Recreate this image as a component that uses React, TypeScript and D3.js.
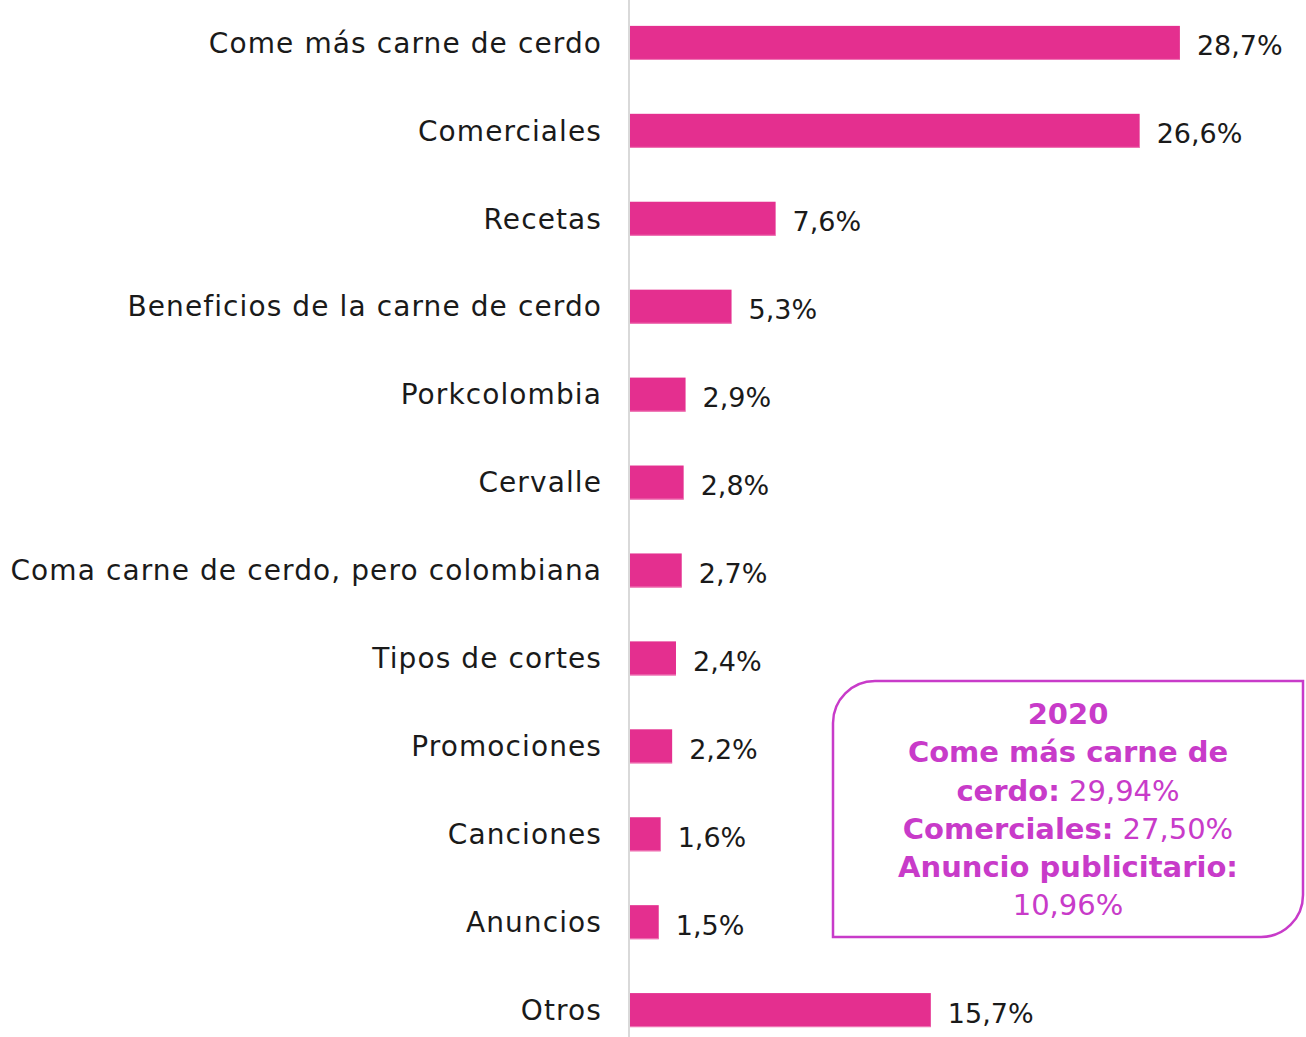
import React from "react";
import * as d3 from "d3";

const categories = [
  "Come más carne de cerdo",
  "Comerciales",
  "Recetas",
  "Beneficios de la carne de cerdo",
  "Porkcolombia",
  "Cervalle",
  "Coma carne de cerdo, pero colombiana",
  "Tipos de cortes",
  "Promociones",
  "Canciones",
  "Anuncios",
  "Otros",
];
const values = [28.7, 26.6, 7.6, 5.3, 2.9, 2.8, 2.7, 2.4, 2.2, 1.6, 1.5, 15.7];
const valueLabels = ["28,7%", "26,6%", "7,6%", "5,3%", "2,9%", "2,8%", "2,7%", "2,4%", "2,2%", "1,6%", "1,5%", "15,7%"];

const noteLines: { bold: string; normal: string }[] = [
  { bold: "2020", normal: "" },
  { bold: "Come más carne de", normal: "" },
  { bold: "cerdo:", normal: " 29,94%" },
  { bold: "Comerciales:", normal: " 27,50%" },
  { bold: "Anuncio publicitario:", normal: "" },
  { bold: "", normal: "10,96%" },
];

const W = 1306;
const H = 1037;
const FONT = "'DejaVu Sans', sans-serif";

export default function App() {
  const x0 = 630;
  const x = d3.scaleLinear().domain([0, 30]).range([x0, x0 + 30 * 19.16]);
  const y = d3
    .scaleBand<string>()
    .domain(categories)
    .range([-0.5, 1053.5])
    .paddingInner(0.613)
    .paddingOuter(0.3);

  const bw = y.bandwidth();
  const pink = "#E42F8F";
  const purple = "#C83BC9";

  // annotation box
  const bx = 833, by = 681, bx2 = 1303, by2 = 937, r = 42;
  const boxPath = `M${bx},${by + r} A${r},${r} 0 0 1 ${bx + r},${by} L${bx2},${by} L${bx2},${by2 - r} A${r},${r} 0 0 1 ${bx2 - r},${by2} L${bx},${by2} Z`;

  return (
    <svg width={W} height={H} style={{ position: "absolute", left: 0, top: 0, background: "#fff" }}>
      <rect x={0} y={0} width={W} height={H} fill="#fff" />
      {categories.map((c, i) => {
        const yy = y(c)!;
        return (
          <g key={c}>
            <rect x={x(0)} y={yy} width={x(values[i]) - x(0)} height={bw} fill={pink} />
            <line x1={x(0)} x2={x(values[i])} y1={yy + bw - 0.5} y2={yy + bw - 0.5} stroke="#F07CB8" strokeWidth={1} />
            <text
              x={602}
              y={yy + bw / 2}
              dy="0.35em"
              textAnchor="end"
              fontFamily={FONT}
              fontSize={28}
              letterSpacing={1.1}
              fill="#1a1a1a"
            >
              {c}
            </text>
            <text
              x={x(values[i]) + 17}
              y={yy + bw / 2 + 3}
              dy="0.35em"
              fontFamily={FONT}
              fontSize={27}
              fill="#1a1a1a"
            >
              {valueLabels[i]}
            </text>
          </g>
        );
      })}
      <line x1={629} x2={629} y1={0} y2={H} stroke="#d9d9d9" strokeWidth={2} />

      <path d={boxPath} fill="#fff" stroke={purple} strokeWidth={2.5} />
      {noteLines.map((l, i) => (
        <text
          key={i}
          x={(bx + bx2) / 2}
          y={714 + i * 38.2}
          dy="0.35em"
          textAnchor="middle"
          fontFamily={FONT}
          fontSize={29}
          fill={purple}
        >
          {l.bold && <tspan fontWeight="bold">{l.bold}</tspan>}
          {l.normal && <tspan fontWeight="normal">{l.normal}</tspan>}
        </text>
      ))}
    </svg>
  );
}
